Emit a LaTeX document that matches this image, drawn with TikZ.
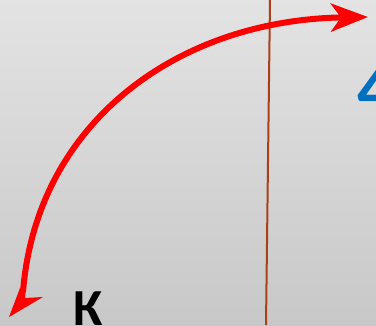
\documentclass[tikz,border=0pt]{standalone}
\usepackage{fontspec}
\setmainfont{Carlito}
\usetikzlibrary{arrows.meta}
\definecolor{bgtop}{HTML}{E3E3E3}
\definecolor{bgbot}{HTML}{C8C8C8}
\definecolor{brownline}{HTML}{A8401A}
\definecolor{numblue}{HTML}{0070C0}
\tikzset{
  redarrow/.style={red, line width=6pt, line cap=butt},
}
\begin{document}
\begin{tikzpicture}[x=1pt,y=-1pt]
\useasboundingbox (0,0) rectangle (376,325);
\shade[top color=bgtop, bottom color=bgbot] (0,0) rectangle (376,325);
\coordinate (ltop) at (270,0);
\coordinate (lbot) at (266,325);
\draw[brownline, line width=2pt] (ltop) -- (lbot);
% curved arrow
\coordinate (startL) at (23,292);
\coordinate (tipR) at (368,17);
\draw[redarrow, -{Stealth[length=37pt,width=28pt,inset=10pt]}]
  (startL) .. controls (36,125) and (175,20) .. (tipR);
% lower-left arrowhead (half visible, as in the reference)
\fill[red] (9,317) -- (43,297) -- (25,298) -- (26,288) -- (20,288) -- cycle;
\node[inner sep=0pt, font=\fontsize{70}{70}\selectfont\bfseries, text=numblue, anchor=north west] (four) at (357,67) {4};
\node[inner sep=0pt, font=\fontsize{52}{52}\selectfont\bfseries, text=black, anchor=north west] (ka) at (73,292) {К};
\end{tikzpicture}
\end{document}
